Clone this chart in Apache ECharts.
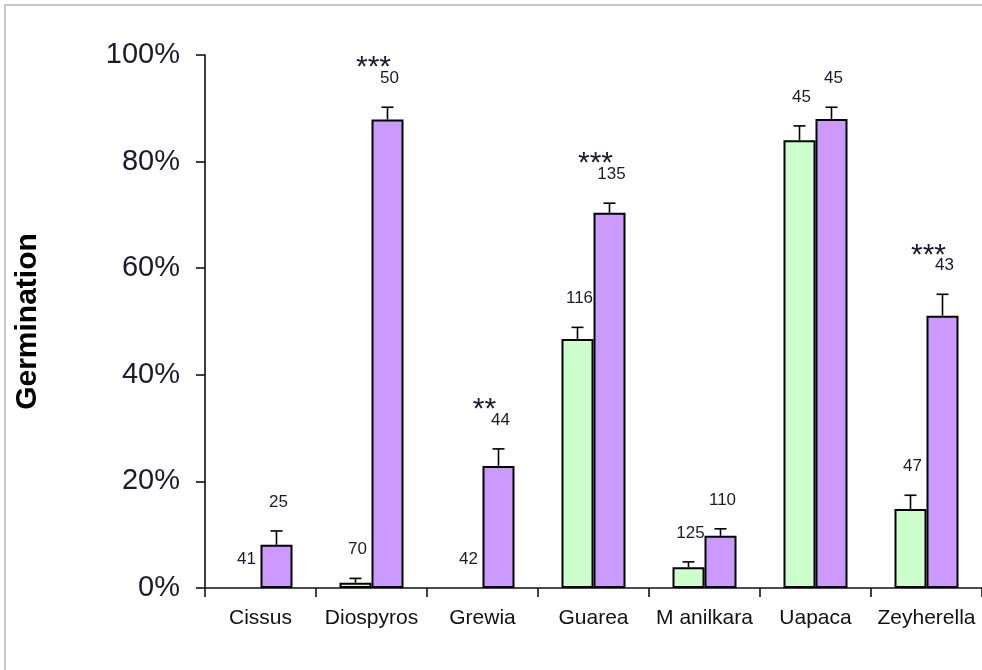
<!DOCTYPE html>
<html>
<head>
<meta charset="utf-8">
<script src="https://cdn.jsdelivr.net/npm/echarts@6/dist/echarts.min.js"></script>
<style>
  html, body { margin: 0; padding: 0; background: #fff; }
  #chart { width: 982px; height: 670px; }
</style>
</head>
<body>
<div id="chart"></div>
<script>
// Genera on the category axis
const categories = ['Cissus', 'Diospyros', 'Grewia', 'Guarea', 'M anilkara', 'Uapaca', 'Zeyherella'];

// Green series: germination (%), standard error (%) and sample size
const greenPct = [0, 1.0, 0, 46.7, 3.9, 84.0, 14.8];
const greenSE  = [0, 0.8, 0, 2.2, 1.0, 2.7, 2.6];
const greenN   = [41, 70, 42, 116, 125, 45, 47];

// Purple series: germination (%), standard error (%) and sample size
const purplePct = [8.1, 87.9, 22.9, 70.4, 9.8, 88.0, 51.1];
const purpleSE  = [2.6, 2.3, 3.2, 1.8, 1.3, 2.2, 4.0];
const purpleN   = [25, 50, 44, 135, 110, 45, 43];

// Significance markers shown over the purple bars
const signif = ['', '***', '**', '***', '', '', '***'];

// Value-axis ticks (percent)
const yMin = 0, yMax = 100, yStep = 20;

const BAR_W = 32;
const FONT = '"Liberation Sans", Arial, sans-serif';

// A bar with zero height gets no outline
function barData(values) {
  return values.map(v => v === 0 ? { value: v, itemStyle: { borderWidth: 0 } } : v);
}

// Error bar (upper whisker only), sample-size label and significance stars
function errorBarSeries(name, pct, se, n, side, stars) {
  return {
    name: name,
    type: 'custom',
    z: 5,
    data: pct.map((v, i) => [i, v]),
    renderItem: function (params, api) {
      const i = params.dataIndex;
      const base = api.coord([api.value(0), pct[i]]);
      const top = api.coord([api.value(0), pct[i] + se[i]]);
      const x = base[0] + side * BAR_W / 2;
      const children = [];
      if (se[i] > 0) {
        children.push({
          type: 'line',
          shape: { x1: x, y1: base[1], x2: x, y2: top[1] },
          style: { stroke: '#000', lineWidth: 1.6 }
        });
        children.push({
          type: 'line',
          shape: { x1: x - 6, y1: top[1], x2: x + 6, y2: top[1] },
          style: { stroke: '#000', lineWidth: 1.6 }
        });
      }
      const ly = top[1] - 29;
      children.push({
        type: 'text',
        style: {
          x: x + 2, y: ly, text: String(n[i]),
          font: '17px ' + FONT, fill: '#1a1a2e',
          align: 'center', verticalAlign: 'middle'
        }
      });
      if (stars && stars[i]) {
        children.push({
          type: 'text',
          style: {
            x: x - 14, y: ly - 10, text: stars[i],
            font: '30px ' + FONT, fill: '#1a1a2e',
            align: 'center', verticalAlign: 'middle'
          }
        });
      }
      return { type: 'group', children: children };
    }
  };
}

const chart = echarts.init(document.getElementById('chart'), null, { renderer: 'canvas' });

chart.setOption({
  backgroundColor: '#fff',
  animation: false,
  graphic: [{
    type: 'rect',
    z: -10,
    shape: { x: 5, y: 5, width: 1200, height: 900 },
    style: { fill: 'none', stroke: '#c8c8c8', lineWidth: 2 }
  }],
  grid: { left: 205, top: 55, bottom: 82, right: -10, containLabel: false },
  xAxis: {
    type: 'category',
    data: categories,
    axisLine: { lineStyle: { color: '#111', width: 1.6 } },
    axisTick: { show: true, interval: 0, length: 9, lineStyle: { color: '#111', width: 1.6 } },
    axisLabel: { interval: 0, color: '#111', fontFamily: FONT, fontSize: 21, margin: 20 }
  },
  yAxis: {
    type: 'value',
    min: yMin, max: yMax, interval: yStep,
    name: 'Germination',
    nameLocation: 'middle',
    nameRotate: 90,
    nameGap: 162,
    nameTextStyle: { color: '#000', fontFamily: FONT, fontSize: 30, fontWeight: 'bold' },
    axisLine: { show: true, lineStyle: { color: '#111', width: 1.6 } },
    axisTick: { show: true, length: 9, lineStyle: { color: '#111', width: 1.6 } },
    splitLine: { show: false },
    axisLabel: {
      color: '#1a1a2e', fontFamily: FONT, fontSize: 29, margin: 25,
      formatter: '{value}%'
    }
  },
  series: [
    {
      name: 'green',
      type: 'bar',
      barWidth: BAR_W,
      barGap: '0%',
      data: barData(greenPct),
      itemStyle: { color: '#ccffcc', borderColor: '#000', borderWidth: 2 }
    },
    {
      name: 'purple',
      type: 'bar',
      barWidth: BAR_W,
      barGap: '0%',
      data: barData(purplePct),
      itemStyle: { color: '#cc99ff', borderColor: '#000', borderWidth: 2 }
    },
    errorBarSeries('green-err', greenPct, greenSE, greenN, -1, null),
    errorBarSeries('purple-err', purplePct, purpleSE, purpleN, 1, signif)
  ]
});
</script>
</body>
</html>
